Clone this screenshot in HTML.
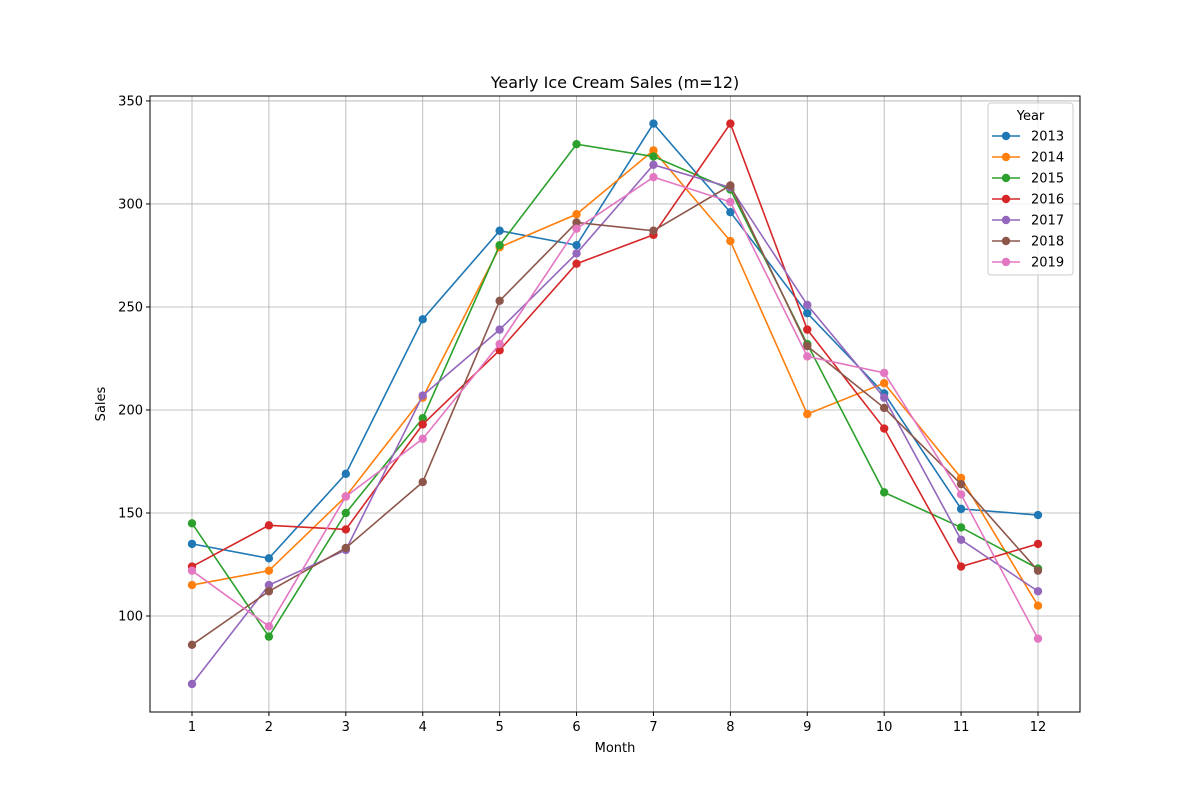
<!DOCTYPE html>
<html><head><meta charset="utf-8"><style>
body{margin:0;background:#fff;font-family:"Liberation Sans","DejaVu Sans",sans-serif;}
svg text{font-family:"DejaVu Sans","Liberation Sans",sans-serif;fill:#000;}
</style></head><body>
<svg id="chart" width="1200" height="800" xmlns="http://www.w3.org/2000/svg"></svg>
<script>
const months=[1,2,3,4,5,6,7,8,9,10,11,12];
const years=["2013","2014","2015","2016","2017","2018","2019"];
const colors=["#1f77b4","#ff7f0e","#2ca02c","#d62728","#9467bd","#8c564b","#e377c2"];
const s2013=[135,128,169,244,287,280,339,296,247,208,152,149];
const s2014=[115,122,158,206,279,295,326,282,198,213,167,105];
const s2015=[145,90,150,196,280,329,323,307,232,160,143,123];
const s2016=[124,144,142,193,229,271,285,339,239,191,124,135];
const s2017=[67,115,132,207,239,276,319,308,251,206,137,112];
const s2018=[86,112,133,165,253,291,287,309,231,201,164,122];
const s2019=[122,95,158,186,232,288,313,301,226,218,159,89];
const series=[s2013,s2014,s2015,s2016,s2017,s2018,s2019];
const yTicks=[100,150,200,250,300,350];

const svg=document.getElementById('chart');
const NS="http://www.w3.org/2000/svg";
const L=150,R=1080,T=96,B=712;
const yMin=53.4,yMax=352.4;
const x=m=>192+(m-1)*(1038-192)/11;
const y=v=>B-(v-yMin)/(yMax-yMin)*(B-T);
function el(tag,attrs,parent){const e=document.createElementNS(NS,tag);for(const k in attrs)e.setAttribute(k,attrs[k]);(parent||svg).appendChild(e);return e;}
function txt(s,attrs,parent){const e=el('text',attrs,parent);e.textContent=s;return e;}

const grid=el('g',{});


months.forEach(m=>{el('line',{x1:x(m),x2:x(m),y1:T,y2:B,stroke:'#b0b0b0','stroke-width':0.8},grid);});
yTicks.forEach(v=>{el('line',{x1:L,x2:R,y1:y(v),y2:y(v),stroke:'#b0b0b0','stroke-width':0.8},grid);});

const xa=el('g',{});


months.forEach(m=>{el('line',{x1:x(m),x2:x(m),y1:B,y2:B+4,stroke:'#000'},xa);txt(String(m),{x:x(m),y:B+19,'text-anchor':'middle','font-size':13},xa);});
const ya=el('g',{});


yTicks.forEach(v=>{el('line',{x1:L-4,x2:L,y1:y(v),y2:y(v),stroke:'#000'},ya);txt(String(v),{x:L-7,y:y(v)+4.5,'text-anchor':'end','font-size':13},ya);});

series.forEach((s,i)=>{
  const g=el('g',{});
  
  
  el('polyline',{points:s.map((v,j)=>x(months[j])+','+y(v)).join(' '),fill:'none',stroke:colors[i],'stroke-width':1.6},g);
  s.forEach((v,j)=>{const c=el('circle',{cx:x(months[j]),cy:y(v),r:4.2,fill:colors[i]},g);
    
    });
});

const frame=el('rect',{x:L,y:T,width:R-L,height:B-T,fill:'none',stroke:'#000','stroke-width':1});



const t=txt('Yearly Ice Cream Sales (m=12)',{x:(L+R)/2,y:88,'text-anchor':'middle','font-size':16});


const xt=txt('Month',{x:(L+R)/2,y:752,'text-anchor':'middle','font-size':13});


const yt=txt('Sales',{x:105,y:(T+B)/2,'text-anchor':'middle','font-size':13,transform:'rotate(-90 105 '+(T+B)/2+')'});



const lg=el('g',{});


el('rect',{x:988,y:103,width:85,height:172,rx:3,fill:'#fff','fill-opacity':0.8,stroke:'#ccc'},lg);
txt('Year',{x:1030.5,y:120,'text-anchor':'middle','font-size':13},lg);
years.forEach((yr,i)=>{
  const e=el('g',{},lg);
  
  
  const yy=136+i*21;
  el('line',{x1:992,x2:1020,y1:yy,y2:yy,stroke:colors[i],'stroke-width':1.6},e);
  el('circle',{cx:1006,cy:yy,r:4.2,fill:colors[i]},e);
  txt(yr,{x:1031,y:yy+4.5,'font-size':13},e);
});
</script>
</body></html>
